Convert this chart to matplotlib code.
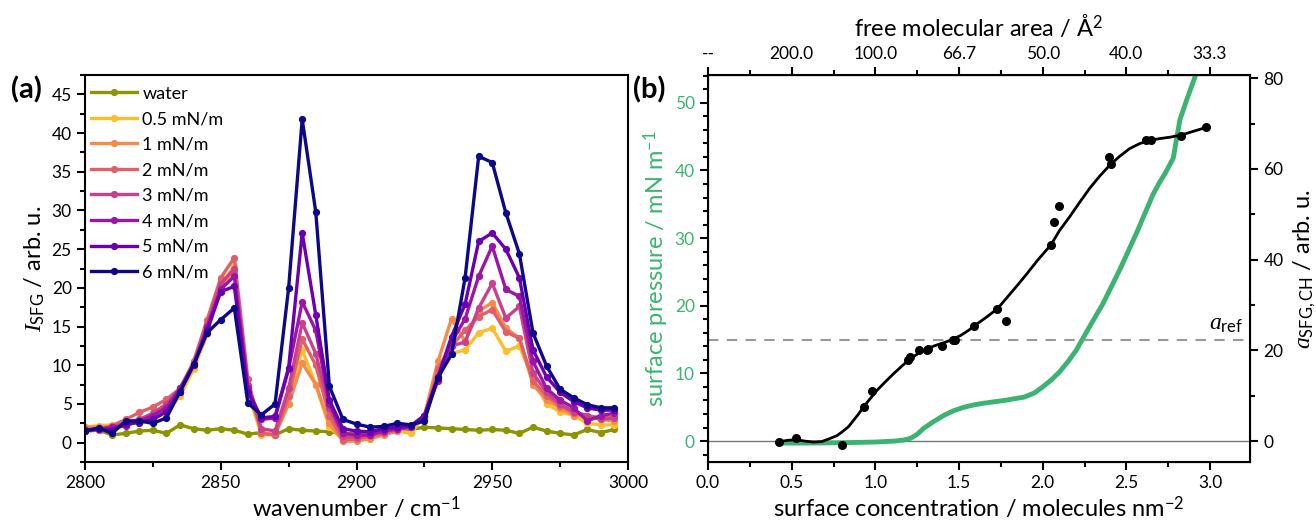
import numpy as np
import matplotlib
matplotlib.use("Agg")
import matplotlib.pyplot as plt
from matplotlib.ticker import MultipleLocator

plt.rcParams['font.family'] = ['Lato', 'DejaVu Sans']
plt.rcParams['mathtext.fontset'] = 'custom'
plt.rcParams['mathtext.rm'] = 'Lato'
plt.rcParams['mathtext.it'] = 'Liberation Serif:italic'
plt.rcParams['mathtext.bf'] = 'Lato:bold'

# ---- panel (a): SFG spectra ----
wavenumber = np.arange(2800, 2996, 5)

water = [1.5, 1.6, 1.0, 1.2, 1.5, 1.6, 1.2, 2.3, 1.8, 1.6, 1.8, 1.6, 1.1, 1.3, 1.0, 1.8, 1.6, 1.5, 1.4, 1.2,
         1.2, 1.5, 1.7, 1.8, 1.7, 2.0, 1.9, 1.8, 1.7, 1.6, 1.7, 1.6, 1.2, 2.0, 1.5, 1.2, 1.0, 1.7, 1.3, 1.7]
p05 = [2.0, 2.2, 2.3, 2.5, 2.6, 3.0, 4.0, 6.0, 9.5, 14.0, 20.5, 22.8, 6.5, 1.0, 1.0, 6.0, 12.0, 7.5, 2.0, 0.5,
       0.6, 0.8, 1.5, 1.5, 1.2, 3.5, 9.0, 11.5, 12.0, 14.2, 14.8, 11.8, 12.5, 8.2, 5.0, 4.0, 3.5, 2.5, 2.3, 2.3]
p1 = [2.0, 2.0, 2.1, 2.5, 2.8, 3.5, 4.5, 6.5, 10.0, 14.5, 20.0, 22.0, 7.0, 1.3, 1.0, 5.0, 10.3, 7.5, 2.5, 0.2,
      0.2, 0.5, 1.0, 1.5, 2.0, 3.5, 10.5, 16.0, 13.1, 17.0, 18.1, 14.8, 13.5, 7.5, 5.5, 4.5, 3.5, 3.5, 3.0, 2.8]
p2 = [1.8, 1.6, 2.2, 3.0, 3.9, 4.6, 5.6, 7.0, 10.5, 15.9, 21.3, 23.9, 8.2, 1.2, 1.0, 6.0, 13.4, 10.0, 3.5, 0.3,
      0.5, 0.8, 1.2, 1.6, 2.2, 3.0, 9.5, 12.5, 14.5, 16.3, 17.2, 14.3, 13.5, 8.0, 6.0, 4.8, 3.8, 3.5, 3.2, 3.3]
p3 = [1.6, 1.8, 2.0, 2.6, 3.0, 3.8, 5.0, 7.0, 10.2, 15.2, 20.5, 22.5, 7.5, 1.8, 1.5, 7.0, 15.5, 11.5, 4.5, 0.8,
      0.7, 1.0, 1.4, 1.8, 2.0, 3.2, 8.5, 12.5, 13.0, 17.4, 20.6, 16.1, 17.6, 9.0, 6.5, 5.0, 4.0, 3.5, 3.0, 3.2]
p4 = [1.5, 1.7, 2.0, 2.2, 2.8, 3.5, 4.5, 7.0, 10.0, 15.0, 19.8, 21.5, 7.0, 3.0, 3.2, 9.5, 18.2, 14.5, 5.0, 1.2,
      1.0, 1.0, 1.5, 1.8, 2.0, 3.5, 8.0, 13.0, 16.0, 21.5, 25.4, 19.8, 18.9, 10.5, 7.0, 5.5, 4.5, 2.8, 3.5, 3.8]
p5 = [1.6, 1.8, 1.6, 2.4, 2.6, 3.0, 4.0, 6.6, 10.0, 14.5, 19.5, 20.2, 6.5, 3.2, 3.4, 9.7, 27.1, 16.5, 5.5, 1.8,
      1.5, 1.4, 1.8, 2.0, 2.2, 3.5, 8.5, 13.7, 17.9, 26.0, 27.1, 25.0, 21.3, 12.0, 8.5, 6.5, 5.3, 4.5, 4.2, 4.2]
p6 = [1.5, 1.9, 1.2, 2.8, 2.8, 2.5, 3.2, 6.6, 10.1, 14.2, 15.9, 17.4, 5.1, 3.6, 5.0, 20.0, 41.8, 29.8, 7.3, 3.0,
      2.4, 2.0, 2.1, 2.5, 2.3, 2.8, 8.4, 11.4, 21.3, 37.0, 36.2, 29.7, 24.4, 14.2, 9.9, 6.9, 5.8, 4.9, 4.5, 4.5]

spectra = [water, p05, p1, p2, p3, p4, p5, p6]
labels = ['water', '0.5 mN/m', '1 mN/m', '2 mN/m', '3 mN/m', '4 mN/m', '5 mN/m', '6 mN/m']
colors = ['#8c9400', '#fbbf2b', '#f58b4a', '#e0606a', '#c8418a', '#9b15a6', '#6a00b0', '#0d0887']

# ---- panel (b): isotherm and SFG amplitude ----
conc_pts = [0.426, 0.526, 0.799, 0.932, 0.978, 1.197, 1.207, 1.263, 1.31, 1.317, 1.397, 1.462, 1.476,
            1.59, 1.729, 1.779, 2.05, 2.068, 2.098, 2.399, 2.407, 2.618, 2.646, 2.827, 2.977]
amp_pts = [-0.1, 0.6, -0.9, 7.6, 11.1, 17.8, 18.6, 20.0, 20.0, 20.4, 20.9, 22.4, 22.4,
           25.3, 29.2, 26.5, 43.3, 48.3, 51.8, 62.6, 61.0, 66.4, 66.4, 67.2, 69.2]

conc_fit = [0.43, 0.48, 0.53, 0.58, 0.63, 0.68, 0.73, 0.77, 0.8, 0.84, 0.87, 0.90, 0.93, 0.97, 1.01,
            1.06, 1.11, 1.16, 1.21, 1.26, 1.31, 1.36, 1.41, 1.46, 1.51, 1.56, 1.61, 1.67, 1.73,
            1.79, 1.85, 1.91, 1.97, 2.05, 2.10, 2.16, 2.22, 2.28, 2.34, 2.40, 2.46, 2.52, 2.58,
            2.64, 2.70, 2.76, 2.83, 2.90, 2.98]
amp_fit = [-0.1, 0.2, 0.3, 0.0, -0.2, -0.1, 0.6, 1.2, 2.0, 3.2, 4.6, 6.0, 7.6, 9.4, 11.2,
           13.1, 14.9, 16.6, 18.2, 19.4, 20.4, 21.1, 21.7, 22.4, 23.3, 24.5, 25.9, 27.5, 29.2,
           31.8, 34.4, 37.1, 39.9, 43.3, 46.4, 49.4, 52.6, 55.7, 58.4, 60.8, 62.8, 64.5, 65.6,
           66.3, 66.7, 67.0, 67.5, 68.3, 69.2]

conc_iso = [0.43, 0.6, 0.8, 1.0, 1.12, 1.17, 1.21, 1.25, 1.29, 1.35, 1.41, 1.47, 1.53, 1.59, 1.65, 1.77,
            1.89, 1.95, 2.0, 2.05, 2.1, 2.15, 2.2, 2.28, 2.36, 2.46, 2.56, 2.66, 2.70, 2.73, 2.78,
            2.82, 2.86, 2.92, 2.96]
pressure = [-0.3, -0.3, -0.25, -0.15, 0.0, 0.15, 0.4, 1.0, 1.9, 2.9, 3.8, 4.5, 5.0, 5.35, 5.6, 6.0,
            6.5, 7.1, 8.0, 9.0, 10.2, 11.7, 13.4, 16.9, 20.3, 25.3, 30.7, 36.5, 38.3, 39.5, 41.8,
            47.5, 50.4, 54.5, 57.0]

area_ticks = [0.0, 0.5, 1.0, 1.5, 2.0, 2.5, 3.0]
area_labels = ['--', '200.0', '100.0', '66.7', '50.0', '40.0', '33.3']
a_ref = 22.3

green = '#3cb371'
tick_fs = 12.5
label_fs = 17

fig = plt.figure(figsize=(13.16, 5.25), dpi=100)
axa = fig.add_axes([0.0646, 0.12, 0.4126, 0.737])
axb = fig.add_axes([0.538, 0.12, 0.412, 0.737])

for y, lab, col in zip(spectra, labels, colors):
    axa.plot(wavenumber, y, '-o', color=col, lw=2.4, ms=4.2, label=lab)

axa.set_xlim(2800, 3000)
axa.set_ylim(-2.5, 47.5)
axa.xaxis.set_major_locator(MultipleLocator(50))
axa.xaxis.set_minor_locator(MultipleLocator(25))
axa.yaxis.set_major_locator(MultipleLocator(5))
axa.yaxis.set_minor_locator(MultipleLocator(2.5))
axa.tick_params(which='both', direction='out', top=False, right=False, width=1.5, labelsize=tick_fs)
axa.tick_params(which='major', length=6)
axa.tick_params(which='minor', length=3.5)
for s in axa.spines.values():
    s.set_linewidth(1.5)
axa.set_xlabel('wavenumber / cm$^{-1}$', fontsize=label_fs, labelpad=2)
axa.set_ylabel(r'$I_{\mathrm{SFG}}$ / arb. u.', fontsize=label_fs, labelpad=3)
axa.legend(loc='upper left', bbox_to_anchor=(-0.019, 1.015), frameon=False, fontsize=13,
           handlelength=2.55, handletextpad=0.3, labelspacing=0.53)

# right panel
axb.plot(conc_iso, pressure, color=green, lw=3.5, zorder=3)
axb.axhline(0, color='#777777', lw=1.0, zorder=1)
axb.set_xlim(0, 3.24)
axb.set_ylim(-3.1, 54.1)
axb.xaxis.set_major_locator(MultipleLocator(0.5))
axb.xaxis.set_minor_locator(MultipleLocator(0.25))
axb.yaxis.set_major_locator(MultipleLocator(10))
axb.yaxis.set_minor_locator(MultipleLocator(2))
axb.xaxis.set_major_formatter(matplotlib.ticker.FormatStrFormatter('%.1f'))
axb.tick_params(which='both', direction='out', top=False, width=1.5, labelsize=tick_fs)
axb.tick_params(axis='y', labelcolor=green)
axb.tick_params(which='major', length=6)
axb.tick_params(which='minor', length=3.5)
for s in axb.spines.values():
    s.set_linewidth(1.5)
axb.set_xlabel('surface concentration / molecules nm$^{-2}$', fontsize=label_fs, labelpad=2)
axb.set_ylabel('surface pressure / mN m$^{-1}$', fontsize=label_fs, color=green, labelpad=3)

ax2 = axb.twinx()
ax2.plot(conc_fit, amp_fit, color='black', lw=2.0, zorder=4)
ax2.plot(conc_pts, amp_pts, 'o', color='black', ms=5.5, zorder=5)
ax2.axhline(a_ref, color='#999999', lw=1.5, ls=(0, (5, 4)), zorder=2)
ax2.text(3.2, a_ref + 1.2, r'$a_{\mathrm{ref}}$', ha='right', va='bottom', fontsize=label_fs)
ax2.set_ylim(-4.6, 80.7)
ax2.yaxis.set_major_locator(MultipleLocator(20))
ax2.yaxis.set_minor_locator(MultipleLocator(10))
ax2.tick_params(which='both', direction='out', width=1.5, labelsize=tick_fs)
ax2.tick_params(which='major', length=6)
ax2.tick_params(which='minor', length=3.5)
ax2.set_ylabel(r'$a_{\mathrm{SFG,CH}}$ / arb. u.', fontsize=label_fs, labelpad=6)

top = axb.secondary_xaxis('top')
top.set_xticks(area_ticks)
top.set_xticklabels(area_labels)
top.xaxis.set_minor_locator(MultipleLocator(0.25))
top.tick_params(which='both', direction='out', width=1.5, labelsize=tick_fs)
top.tick_params(which='major', length=6)
top.tick_params(which='minor', length=3.5)
top.set_xlabel('free molecular area / Å$^2$', fontsize=label_fs, labelpad=7)

fig.text(0.008, 0.829, '(a)', fontsize=21, fontweight='bold', va='center')
fig.text(0.481, 0.829, '(b)', fontsize=21, fontweight='bold', va='center')

fig.savefig('out.png', dpi=100)
